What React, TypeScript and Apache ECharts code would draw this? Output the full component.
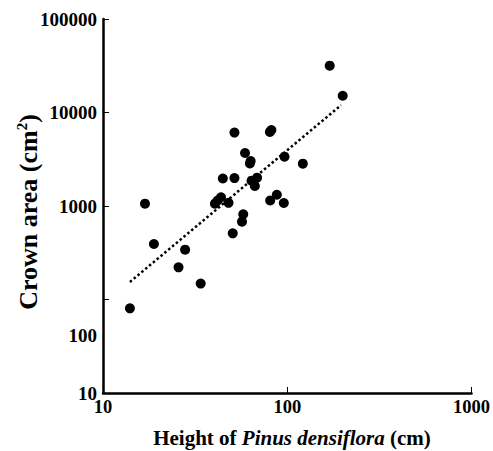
import React, { useEffect, useRef } from "react";
import * as echarts from "echarts";

// Height of Pinus densiflora (cm)
const heights = [
  170, 200, 51.7, 80.5, 82, 59, 63.3, 62.7, 96.6, 121.5,
  44.7, 51.7, 64, 68.6, 66.7, 43.7, 41.9, 40.5, 48, 16.9,
  80.8, 87.8, 95.8, 57.7, 56.8, 50.6, 18.9, 27.9, 25.7, 33.9, 14,
];
// Crown area (cm2)
const crownAreas = [
  31700, 15100, 6100, 6200, 6500, 3690, 3030, 2850, 3370, 2835,
  1970, 1990, 1865, 2010, 1640, 1240, 1145, 1060, 1080, 1060,
  1145, 1320, 1077, 815, 680, 510, 392, 341, 221, 148, 80.5,
];
// Fitted regression line end points
const trendX = [14, 196];
const trendY = [154, 12000];

const xTicks = [10, 100, 1000];
const yTicks = [10, 100, 1000, 10000, 100000];

export default function App() {
  const ref = useRef<HTMLDivElement>(null);
  useEffect(() => {
    if (!ref.current) return;
    const chart = echarts.init(ref.current, undefined, { renderer: "svg" });
    const font = '"Liberation Serif", "Times New Roman", serif';
    chart.setOption({
      animation: false,
      backgroundColor: "#ffffff",
      grid: { left: 103, right: 17, top: 19, bottom: 58 },
      xAxis: {
        type: "log",
        logBase: 10,
        min: xTicks[0],
        max: xTicks[xTicks.length - 1],
        splitLine: { show: false },
        axisLine: { lineStyle: { color: "#000", width: 2.5 } },
        axisTick: { inside: true, length: 6, lineStyle: { color: "#000", width: 1 } },
        axisLabel: {
          color: "#000",
          fontFamily: font,
          fontWeight: "bold",
          fontSize: 18.5,
          margin: 4,
          formatter: (v: number) => String(Math.round(v)),
        },
      },
      yAxis: {
        type: "log",
        logBase: 10,
        min: yTicks[0],
        max: yTicks[yTicks.length - 1],
        splitLine: { show: false },
        axisLine: { lineStyle: { color: "#000", width: 2.5 } },
        axisTick: { inside: true, length: 6, lineStyle: { color: "#000", width: 1 } },
        axisLabel: {
          color: "#000",
          fontFamily: font,
          fontWeight: "bold",
          fontSize: 19,
          margin: 6,
          formatter: (v: number) => (Math.round(v) === 100 ? "{low|100}" : String(Math.round(v))),
          rich: {
            low: {
              color: "#000",
              fontFamily: font,
              fontWeight: "bold",
              fontSize: 19,
              padding: [72, 0, 0, 0],
            },
          },
        },
      },
      graphic: [
        {
          type: "text",
          x: 28,
          y: 212,
          rotation: Math.PI / 2,
          style: {
            text: "Crown area (cm{sup|2})",
            fill: "#000",
            font: `bold 26px ${font}`,
            align: "center",
            verticalAlign: "middle",
            rich: {
              sup: { fontSize: 15, fontWeight: "bold", fontFamily: font, verticalAlign: "top", padding: [0, 0, 12, 0] },
            },
          },
        },
        {
          type: "text",
          x: 292,
          y: 438,
          style: {
            text: "Height of {it|Pinus densiflora} (cm)",
            fill: "#000",
            font: `bold 21px ${font}`,
            align: "center",
            verticalAlign: "middle",
            rich: {
              it: { fontSize: 21, fontWeight: "bold", fontStyle: "italic", fontFamily: font },
            },
          },
        },
      ],
      series: [
        {
          type: "line",
          data: trendX.map((x, i) => [x, trendY[i]]),
          symbol: "none",
          lineStyle: { color: "#000", width: 2.5, type: [2.5, 2.5] },
          z: 1,
        },
        {
          type: "scatter",
          data: heights.map((h, i) => [h, crownAreas[i]]),
          symbol: "circle",
          symbolSize: 10,
          itemStyle: { color: "#000", opacity: 1 },
          z: 2,
        },
      ],
    });
    return () => chart.dispose();
  }, []);
  return (
    <div
      ref={ref}
      style={{ position: "fixed", left: 0, top: 0, width: 493, height: 451, background: "#fff" }}
    />
  );
}
